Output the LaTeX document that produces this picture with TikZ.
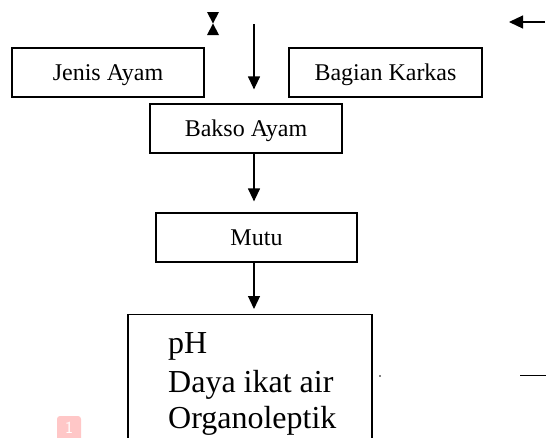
\documentclass[tikz,border=0pt]{standalone}
\usepackage{fontspec}
\setmainfont{Liberation Serif}
\usetikzlibrary{arrows.meta}
\newlength{\du}
\setlength{\du}{1pt}
\tikzset{
  kotak/.style={draw, line width=1.2\du, minimum width=192\du, minimum height=49\du, inner sep=0pt, text height=16\du, text depth=0pt, font=\fontsize{24}{28}\selectfont},
  panah/.style={-{Triangle[width=12pt,length=13pt]}, line width=1.2\du},
  isi/.style={anchor=base west, inner sep=0pt, font=\fontsize{32}{37}\selectfont}
}
\begin{document}
\begin{tikzpicture}
\pgftransformxscale{1.000000}
\pgftransformyscale{-1.000000}
\definecolor{dialinecolor}{rgb}{0.000000, 0.000000, 0.000000}
\definecolor{badgecolor}{rgb}{1.000000, 0.780000, 0.780000}
\useasboundingbox (0\du,0\du) rectangle (546\du,437\du);
\coordinate (axis) at (254\du,0\du);
% boxes
\node[kotak] (jenis) at (108\du,72.5\du){Jenis Ayam};
\node[kotak, minimum width=193\du] (karkas) at (385.5\du,72.5\du){Bagian Karkas};
\node[kotak] (bakso) at (246\du,128.5\du){Bakso Ayam};
\node[kotak, minimum width=201\du] (mutu) at (256.5\du,237.5\du){Mutu};
\node[kotak, minimum width=244\du, minimum height=160\du, anchor=north] (uji) at (250\du,314\du){};
% setfont left to latex
\node[isi] (ph) at (168\du,353\du){pH};
\node[isi] (daya) at (168\du,392\du){Daya ikat air};
\node[isi] (organo) at (168\du,428\du){Organoleptik};
% arrows
\coordinate (atas) at (254\du,24\du);
\draw[panah, shorten >=14pt] (atas) -- (bakso.north -| axis);
\draw[panah, shorten >=11pt] (bakso.south -| axis) -- (mutu.north -| axis);
\draw[panah, shorten >=5pt] (mutu.south -| axis) -- (uji.north -| axis);
% was here!!!
\fill[dialinecolor] (207\du,12\du) -- (219\du,12\du) -- (213\du,23.5\du) -- cycle;
\fill[dialinecolor] (207\du,35\du) -- (219\du,35\du) -- (213\du,23.5\du) -- cycle;
\coordinate (kanan) at (545\du,22\du);
\coordinate (kiri) at (509\du,22\du);
\draw[-{Triangle[width=13pt,length=14pt]}, line width=1.2\du] (kanan) -- (kiri);
% dot and line
\fill[dialinecolor] (380\du,376\du) circle (0.9\du);
\coordinate (garisa) at (520\du,375.5\du);
\coordinate (garisb) at (546\du,375.5\du);
\draw[line width=1.2\du] (garisa) -- (garisb);
% badge
\fill[badgecolor, rounded corners=3\du] (57\du,416\du) rectangle (81\du,445\du);
\node[text=white, inner sep=0pt, font=\sffamily\fontsize{17}{17}\selectfont] (nomor) at (69\du,427.5\du){1};
\end{tikzpicture}
\end{document}
